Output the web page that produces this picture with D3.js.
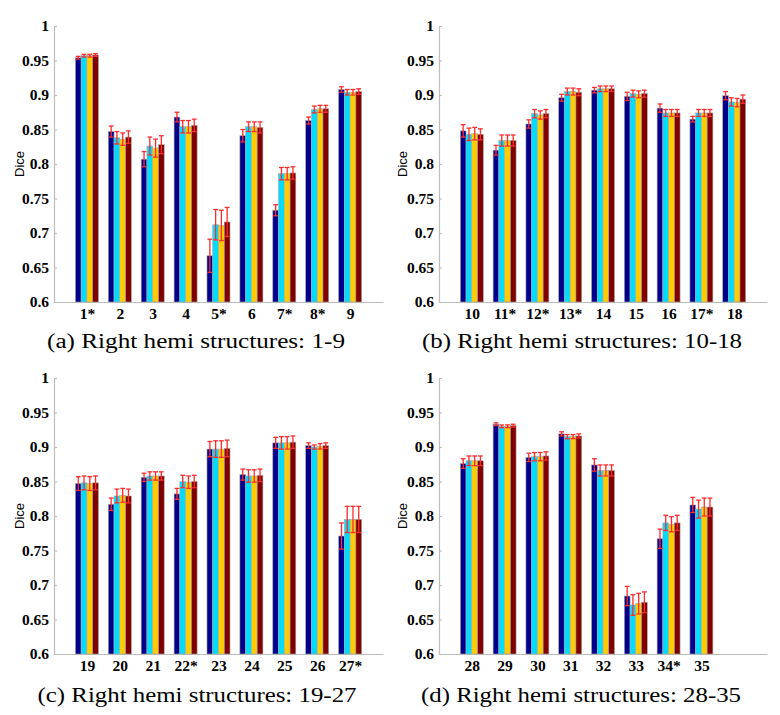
<!DOCTYPE html>
<html>
<head>
<meta charset="utf-8">
<script src="https://cdn.jsdelivr.net/npm/d3@7/dist/d3.min.js"></script>
<style>
  html, body { margin: 0; padding: 0; background: #fff; }
  svg { display: block; }
  .tk text { font-family: "Liberation Serif", "Times New Roman", serif; font-weight: bold; font-size: 15.5px; fill: #000; }
  .cap { font-family: "Liberation Serif", "Times New Roman", serif; font-size: 20.5px; fill: #000; }
  .dice { font-family: "Liberation Sans", Arial, sans-serif; font-size: 13px; fill: #000; }
</style>
</head>
<body>
<svg id="chart" width="780" height="715"></svg>
<script>
// ---------- data ----------
const seriesColors = ["#00008c", "#00dcff", "#ffcc00", "#800000"];
const yTicks = [0.6, 0.65, 0.7, 0.75, 0.8, 0.85, 0.9, 0.95, 1];

const titleA = "(a) Right hemi structures: 1-9";
const labelsA = ["1*", "2", "3", "4", "5*", "6", "7*", "8*", "9"];
const meanA = [
  [0.954, 0.847, 0.807, 0.868, 0.667, 0.841, 0.733, 0.863, 0.908],
  [0.957, 0.838, 0.826, 0.854, 0.712, 0.854, 0.786, 0.879, 0.904],
  [0.957, 0.836, 0.823, 0.854, 0.711, 0.854, 0.786, 0.880, 0.904],
  [0.958, 0.839, 0.828, 0.856, 0.716, 0.853, 0.787, 0.880, 0.905]
];
const errA = [
  [0.002, 0.008, 0.011, 0.007, 0.024, 0.009, 0.008, 0.005, 0.004],
  [0.002, 0.009, 0.013, 0.009, 0.022, 0.007, 0.009, 0.005, 0.004],
  [0.002, 0.009, 0.013, 0.009, 0.022, 0.007, 0.009, 0.005, 0.004],
  [0.002, 0.009, 0.013, 0.009, 0.021, 0.008, 0.009, 0.005, 0.004]
];

const titleB = "(b) Right hemi structures: 10-18";
const labelsB = ["10", "11*", "12*", "13*", "14", "15", "16", "17*", "18"];
const meanB = [
  [0.848, 0.820, 0.858, 0.896, 0.907, 0.898, 0.881, 0.865, 0.899],
  [0.843, 0.834, 0.873, 0.905, 0.909, 0.902, 0.874, 0.874, 0.890],
  [0.844, 0.834, 0.871, 0.905, 0.909, 0.901, 0.874, 0.874, 0.889],
  [0.843, 0.834, 0.873, 0.904, 0.909, 0.902, 0.874, 0.874, 0.894]
];
const errB = [
  [0.009, 0.007, 0.006, 0.005, 0.004, 0.006, 0.006, 0.004, 0.006],
  [0.009, 0.008, 0.006, 0.005, 0.004, 0.005, 0.005, 0.005, 0.006],
  [0.009, 0.008, 0.006, 0.005, 0.004, 0.005, 0.005, 0.005, 0.006],
  [0.008, 0.008, 0.006, 0.005, 0.004, 0.005, 0.005, 0.005, 0.006]
];

const titleC = "(c) Right hemi structures: 19-27";
const labelsC = ["19", "20", "21", "22*", "23", "24", "25", "26", "27*"];
const meanC = [
  [0.847, 0.817, 0.856, 0.832, 0.897, 0.860, 0.906, 0.902, 0.771],
  [0.848, 0.829, 0.858, 0.850, 0.897, 0.858, 0.906, 0.900, 0.795],
  [0.847, 0.830, 0.858, 0.849, 0.897, 0.858, 0.906, 0.901, 0.795],
  [0.848, 0.829, 0.858, 0.850, 0.898, 0.859, 0.907, 0.902, 0.795]
];
const errC = [
  [0.010, 0.009, 0.006, 0.008, 0.011, 0.008, 0.008, 0.004, 0.019],
  [0.010, 0.010, 0.006, 0.009, 0.012, 0.009, 0.009, 0.003, 0.019],
  [0.010, 0.010, 0.006, 0.009, 0.012, 0.009, 0.009, 0.004, 0.019],
  [0.010, 0.010, 0.006, 0.009, 0.012, 0.009, 0.009, 0.004, 0.019]
];

const titleD = "(d) Right hemi structures: 28-35";
const labelsD = ["28", "29", "30", "31", "32", "33", "34*", "35"];
const meanD = [
  [0.876, 0.933, 0.885, 0.919, 0.874, 0.684, 0.767, 0.816],
  [0.880, 0.930, 0.886, 0.915, 0.866, 0.671, 0.790, 0.810],
  [0.880, 0.930, 0.886, 0.915, 0.866, 0.673, 0.788, 0.813],
  [0.880, 0.931, 0.887, 0.916, 0.866, 0.675, 0.790, 0.813]
];
const errD = [
  [0.007, 0.002, 0.006, 0.003, 0.009, 0.014, 0.014, 0.011],
  [0.007, 0.002, 0.006, 0.003, 0.008, 0.015, 0.011, 0.013],
  [0.007, 0.002, 0.006, 0.003, 0.008, 0.015, 0.011, 0.013],
  [0.007, 0.002, 0.006, 0.003, 0.008, 0.015, 0.011, 0.013]
];

// ---------- drawing ----------
const svg = d3.select("#chart");

function panel(opts) {
  const { left, top, bottom, width, labels, means, errs, title, titleX, titleY, titleW, diceX } = opts;
  const g = svg.append("g");
  const x = d3.scaleLinear().domain([0, 10]).range([left, left + width]);
  const y = d3.scaleLinear().domain([0.6, 1]).range([bottom, top]);
  const groupW = x(0.7) - x(0);
  const inner = d3.scaleBand().domain(d3.range(means.length)).range([-groupW / 2, groupW / 2]).padding(0);

  // y axis
  const yAxis = d3.axisLeft(y).tickValues(yTicks).tickSize(-3).tickPadding(5)
    .tickFormat(v => String(+v.toFixed(2)));
  const ya = g.append("g").attr("class", "tk").attr("transform", `translate(${left},0)`).call(yAxis);
  ya.attr("font-family", null).attr("font-size", null);
  ya.select(".domain").attr("stroke", "#bdbdbd").attr("stroke-width", 1.2);
  ya.selectAll(".tick line").attr("stroke", "#bdbdbd").attr("stroke-width", 1.2);

  // x axis
  const xAxis = d3.axisBottom(x).tickValues(d3.range(1, labels.length + 1))
    .tickSize(0).tickPadding(5.5).tickFormat(i => labels[i - 1]);
  const xa = g.append("g").attr("class", "tk").attr("transform", `translate(0,${bottom})`).call(xAxis);
  xa.attr("font-family", null).attr("font-size", null);
  xa.select(".domain").attr("stroke", "#bdbdbd").attr("stroke-width", 1.2);

  // bars
  means.forEach((series, s) => {
    const sg = g.append("g");
    sg.selectAll("rect").data(series).join("rect")
      .attr("x", (d, i) => x(i + 1) + inner(s))
      .attr("y", d => y(d))
      .attr("width", inner.bandwidth())
      .attr("height", d => y(0.6) - y(d))
      .attr("fill", seriesColors[s])
      .attr("stroke", "#a8a8a8")
      .attr("stroke-width", 0.6);
  });

  // error bars
  means.forEach((series, s) => {
    const eg = g.append("g").attr("stroke", "#ff2a2a").attr("stroke-width", 1.3).attr("fill", "none");
    series.forEach((d, i) => {
      const cx = x(i + 1) + inner(s) + inner.bandwidth() / 2;
      const e = errs[s][i];
      const y1 = y(d + e), y2 = y(d - e);
      eg.append("line").attr("x1", cx).attr("x2", cx).attr("y1", y1).attr("y2", y2);
      eg.append("line").attr("x1", cx - 2.4).attr("x2", cx + 2.4).attr("y1", y1).attr("y2", y1);
      eg.append("line").attr("x1", cx - 2.4).attr("x2", cx + 2.4).attr("y1", y2).attr("y2", y2);
    });
  });

  // Dice label
  g.append("text").attr("class", "dice")
    .attr("transform", `translate(${diceX},${(top + bottom) / 2}) rotate(-90)`)
    .attr("text-anchor", "middle")
    .attr("dominant-baseline", "central")
    .text("Dice");

  // caption
  g.append("text").attr("class", "cap")
    .attr("x", titleX).attr("y", titleY)
    .attr("text-anchor", "middle")
    .attr("textLength", titleW)
    .attr("lengthAdjust", "spacingAndGlyphs")
    .text(title);
}

panel({ left: 54, top: 26, bottom: 302, width: 329, labels: labelsA, means: meanA, errs: errA,
        title: titleA, titleX: 196, titleY: 348, titleW: 298, diceX: 19 });
panel({ left: 439, top: 26, bottom: 302, width: 328, labels: labelsB, means: meanB, errs: errB,
        title: titleB, titleX: 582, titleY: 348, titleW: 320, diceX: 402 });
panel({ left: 54, top: 378, bottom: 654, width: 329, labels: labelsC, means: meanC, errs: errC,
        title: titleC, titleX: 197, titleY: 702, titleW: 319, diceX: 19 });
panel({ left: 439, top: 378, bottom: 654, width: 328, labels: labelsD, means: meanD, errs: errD,
        title: titleD, titleX: 581, titleY: 702, titleW: 320, diceX: 402 });
</script>
</body>
</html>
